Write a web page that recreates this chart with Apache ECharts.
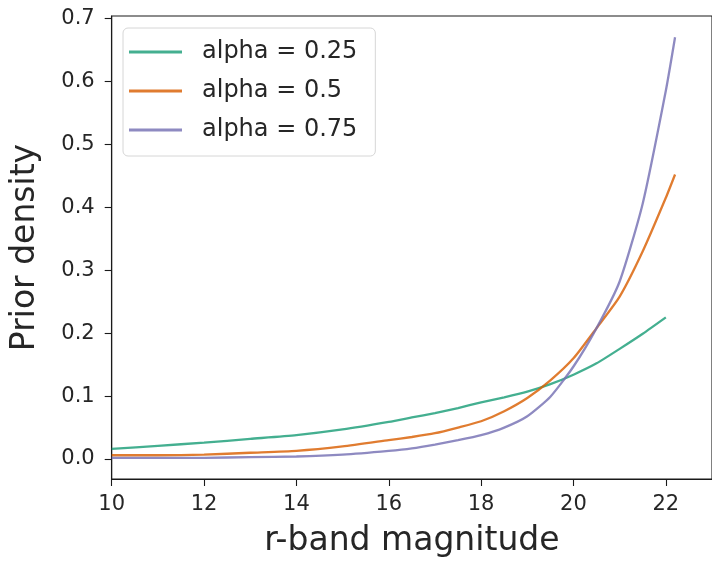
<!DOCTYPE html>
<html>
<head>
<meta charset="utf-8">
<script src="https://cdn.jsdelivr.net/npm/echarts@6/dist/echarts.min.js"></script>
<style>
  html, body { margin: 0; padding: 0; background: #ffffff; }
  #chart { width: 712px; height: 563px; }
</style>
</head>
<body>
<div id="chart"></div>
<script>
// r-band magnitudes at which the prior density is sampled
const magnitudes = [10, 11, 12, 13, 14, 15, 16, 16.5, 17, 17.5, 18, 18.5, 19, 19.5, 20, 20.5, 21, 21.5, 22, 22.2];

// Prior density for each alpha (null = not sampled)
const alpha025 = [0.016, 0.021, 0.026, 0.032, 0.038, 0.047, 0.059, 0.066, 0.073, 0.081, 0.090, 0.098, 0.107, 0.119, 0.134, 0.152, 0.175, 0.199, 0.225, null];
const alpha050 = [0.006, 0.006, 0.007, 0.010, 0.013, 0.020, 0.030, 0.035, 0.041, 0.050, 0.060, 0.076, 0.097, 0.125, 0.160, 0.208, 0.258, 0.330, 0.415, 0.452];
const alpha075 = [0.002, 0.002, 0.002, 0.003, 0.004, 0.007, 0.013, 0.017, 0.023, 0.030, 0.038, 0.050, 0.068, 0.099, 0.147, 0.208, 0.282, 0.406, 0.585, 0.670];

const seriesNames = ['alpha = 0.25', 'alpha = 0.5', 'alpha = 0.75'];
const seriesColors = ['#1b9e77', '#d95f02', '#7570b3'];

// Tick positions
const xTicks = [10, 12, 14, 16, 18, 20, 22];
const yTicks = [0, 0.1, 0.2, 0.3, 0.4, 0.5, 0.6, 0.7];

const FONT = 'DejaVu Sans';
const INK = '#262626';
const SPINE = '#1a1a1a';

function pairs(values) {
  return magnitudes.map((m, i) => [m, values[i]]);
}

const chart = echarts.init(document.getElementById('chart'), null, { renderer: 'canvas' });

const makeSeries = (name, values, color) => ({
  name: name,
  type: 'line',
  data: pairs(values),
  symbol: 'none',
  smooth: 0.2,
  connectNulls: false,
  lineStyle: { color: color, width: 2.3, opacity: 0.82 },
  itemStyle: { color: color, opacity: 0.82 },
  emphasis: { disabled: true },
  animation: false
});

chart.setOption({
  animation: false,
  backgroundColor: '#ffffff',
  grid: {
    left: 111.7,
    top: 16,
    right: -7.45,
    bottom: 83.7,
    show: true,
    borderColor: SPINE,
    borderWidth: 1.1,
    backgroundColor: 'transparent'
  },
  legend: {
    orient: 'vertical',
    left: 123,
    top: 28,
    padding: [12, 18, 14, 6],
    icon: 'rect',
    itemWidth: 53,
    itemHeight: 3,
    itemGap: 15,
    backgroundColor: 'rgba(255,255,255,0.8)',
    borderColor: '#d6d6d6',
    borderWidth: 1,
    borderRadius: 5,
    itemStyle: { opacity: 0.82 },
    textStyle: {
      fontFamily: FONT,
      fontSize: 24,
      lineHeight: 24,
      color: INK,
      padding: [0, 0, 0, 15]
    },
    data: seriesNames
  },
  xAxis: {
    type: 'value',
    min: 10,
    max: 23,
    name: 'r-band magnitude',
    nameLocation: 'middle',
    nameGap: 46,
    nameTextStyle: { fontFamily: FONT, fontSize: 33, lineHeight: 33, color: INK },
    axisLine: { show: true, onZero: false, lineStyle: { color: SPINE, width: 1.1 } },
    axisTick: { show: true, length: 7, inside: false, customValues: xTicks, lineStyle: { color: SPINE, width: 1.1 } },
    axisLabel: {
      customValues: xTicks,
      margin: 15,
      fontFamily: FONT,
      fontSize: 21,
      lineHeight: 21,
      color: INK,
      formatter: v => String(v)
    },
    splitLine: { show: false }
  },
  yAxis: {
    type: 'value',
    min: -0.0317,
    max: 0.7037,
    name: 'Prior density',
    nameLocation: 'middle',
    nameGap: 70,
    nameRotate: 90,
    nameTextStyle: { fontFamily: FONT, fontSize: 33, lineHeight: 33, color: INK },
    axisLine: { show: true, onZero: false, lineStyle: { color: SPINE, width: 1.1 } },
    axisTick: { show: true, length: 7, inside: false, customValues: yTicks, lineStyle: { color: SPINE, width: 1.1 } },
    axisLabel: {
      customValues: yTicks,
      margin: 17,
      fontFamily: FONT,
      fontSize: 21,
      lineHeight: 21,
      color: INK,
      formatter: v => v.toFixed(1)
    },
    splitLine: { show: false }
  },
  series: [
    makeSeries(seriesNames[0], alpha025, seriesColors[0]),
    makeSeries(seriesNames[1], alpha050, seriesColors[1]),
    makeSeries(seriesNames[2], alpha075, seriesColors[2])
  ]
});
</script>
</body>
</html>
